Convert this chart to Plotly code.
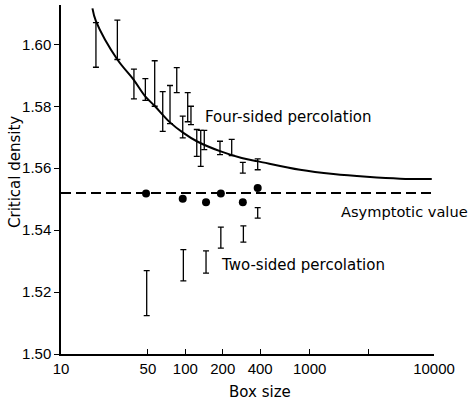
import plotly.graph_objects as go

# Four-sided percolation error bars (box size, lower, upper)
four_x = [19.1, 28.4, 38.6, 47.7, 56.7, 65.8, 75.3, 85.3, 95.3, 104.5, 111, 123.6, 133, 142, 190, 236, 290, 382]
four_lo = [1.5926, 1.5951, 1.5824, 1.5819, 1.5800, 1.5719, 1.5744, 1.5844, 1.5698, 1.5750, 1.5741, 1.5638, 1.5606, 1.5660, 1.5644, 1.5641, 1.5584, 1.5595]
four_hi = [1.6070, 1.6078, 1.5920, 1.5889, 1.5947, 1.5847, 1.5867, 1.5925, 1.5768, 1.5844, 1.5800, 1.5725, 1.5722, 1.5722, 1.5687, 1.5693, 1.5619, 1.5630]

# Two-sided percolation error bars
two_x = [48.9, 96.4, 146.7, 193, 293, 382]
two_lo = [1.5124, 1.5236, 1.5261, 1.5342, 1.5361, 1.5439]
two_hi = [1.5269, 1.5337, 1.5333, 1.5410, 1.5414, 1.5473]

# Extrapolated points (filled dots)
dot_x = [48.3, 95.3, 146.7, 193, 290, 382]
dot_y = [1.5518, 1.5501, 1.5490, 1.5518, 1.5490, 1.5536]

# Fitted curve
curve_x = [17.9, 19.1, 28.4, 38.2, 47.4, 57.0, 75.3, 96.4, 123.6, 190, 284, 387, 837, 1553, 2878, 5333, 9594]
curve_y = [1.6116, 1.6075, 1.5951, 1.5887, 1.5833, 1.5800, 1.5748, 1.5714, 1.5687, 1.5655, 1.5633, 1.5622, 1.5595, 1.5581, 1.5572, 1.5566, 1.5565]

# Asymptotic value
asym_x = [10, 10000]
asym_y = [1.5520, 1.5520]

x_tickvals = [10, 50, 100, 200, 400, 1000, 3000, 10000]
x_ticktext = ["10", "50", "100", "200", "400", "1000", "", "10000"]
y_tickvals = [1.50, 1.52, 1.54, 1.56, 1.58, 1.60]
y_ticktext = ["1.50", "1.52", "1.54", "1.56", "1.58", "1.60"]

def mid(lo, hi):
    return [(a + b) / 2 for a, b in zip(lo, hi)]

def half(lo, hi):
    return [(b - a) / 2 for a, b in zip(lo, hi)]

fig = go.Figure()

fig.add_trace(go.Scatter(x=asym_x, y=asym_y, mode="lines",
                         line=dict(color="black", width=2, dash="10px,5px"),
                         hoverinfo="skip", showlegend=False))

fig.add_trace(go.Scatter(x=curve_x, y=curve_y, mode="lines",
                         line=dict(color="black", width=2, shape="spline", smoothing=1.0),
                         showlegend=False))

for xs, lo, hi in [(four_x, four_lo, four_hi), (two_x, two_lo, two_hi)]:
    fig.add_trace(go.Scatter(
        x=xs, y=mid(lo, hi), mode="markers",
        marker=dict(size=1, color="rgba(0,0,0,0)"),
        error_y=dict(type="data", array=half(lo, hi), symmetric=True,
                     color="black", thickness=1.3, width=3),
        showlegend=False))

fig.add_trace(go.Scatter(x=dot_x, y=dot_y, mode="markers",
                         marker=dict(size=8, color="black"), showlegend=False))

ann_font = dict(family="DejaVu Sans", size=15, color="black")
fig.add_annotation(x=2.145, y=1.5764, text="Four-sided percolation", showarrow=False,
                   xanchor="left", yanchor="middle", font=ann_font)
fig.add_annotation(x=3.238, y=1.5460, text="Asymptotic value", showarrow=False,
                   xanchor="left", yanchor="middle", font=dict(family="DejaVu Sans", size=14.6, color="black"))
fig.add_annotation(x=2.2735, y=1.5288, text="Two-sided percolation", showarrow=False,
                   xanchor="left", yanchor="middle", font=ann_font)
fig.add_annotation(xref="paper", yref="paper", x=-0.1233, y=0.5215, text="Critical density",
                   textangle=-90, showarrow=False, xanchor="center", yanchor="middle", font=ann_font)
fig.add_annotation(xref="paper", yref="paper", x=0.5335, y=-0.108, text="Box size",
                   showarrow=False, xanchor="center", yanchor="middle", font=ann_font)

fig.update_xaxes(type="log", range=[1, 4], tickvals=x_tickvals, ticktext=x_ticktext,
                 ticks="inside", ticklen=5, tickwidth=1.2, tickcolor="black",
                 showline=True, linecolor="black", linewidth=1.5, showgrid=False, zeroline=False,
                 tickfont=dict(family="Liberation Sans", size=15, color="black"))
fig.update_yaxes(range=[1.50, 1.6127], tickvals=y_tickvals, ticktext=y_ticktext,
                 ticks="outside", ticklen=5, tickwidth=1.2, tickcolor="black",
                 showline=True, linecolor="black", linewidth=1.5, showgrid=False, zeroline=False,
                 tickfont=dict(family="Liberation Sans", size=15, color="black"))

fig.update_layout(width=469, height=403, margin=dict(l=61, r=35, t=5, b=49),
                  plot_bgcolor="white", paper_bgcolor="white", showlegend=False)

fig.write_html("out.html", config={"displayModeBar": False},
               post_script="document.body.style.margin='0';document.body.style.overflow='hidden';")
